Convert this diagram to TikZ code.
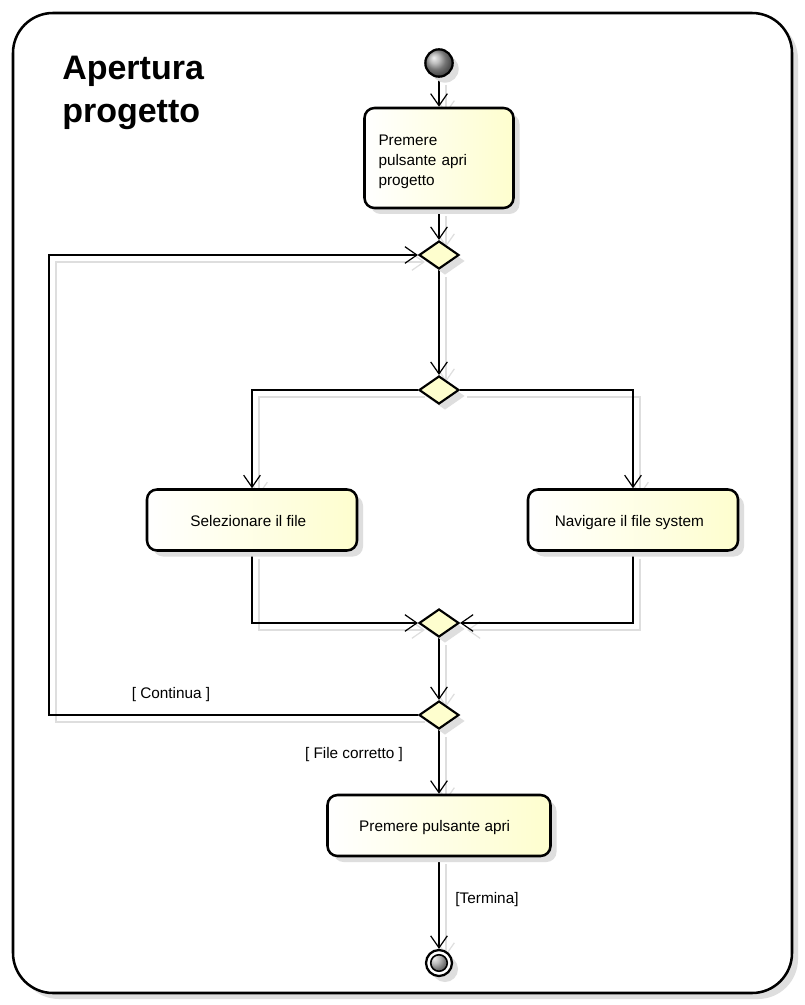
\documentclass[tikz,border=0pt]{standalone}
\usepackage{fontspec}
\setmainfont{Liberation Sans}
\usetikzlibrary{arrows.meta,shapes.geometric,shadows}
\definecolor{boxyel}{RGB}{254,254,206}
\definecolor{shad}{RGB}{222,222,222}
\pgfdeclarelayer{framelayer}
\pgfdeclarelayer{linelayer}
\pgfsetlayers{framelayer,linelayer,main}
\newcommand{\allconns}[1]{%
  \draw[#1] (start) -- (a1);
  \draw[#1] (a1) -- (d1);
  \draw[#1] (d1) -- (d2);
  \draw[#1] (d2.west) -| (sel.north);
  \draw[#1] (d2.east) -| (nav.north);
  \draw[#1] (sel.south) |- (d3.west);
  \draw[#1] (nav.south) |- (d3.east);
  \draw[#1] (d3) -- (d4);
  \draw[#1] (d4.west) -- (lc1) -- (lc2) -- (d1.west);
  \draw[#1] (d4) -- (a4);
  \draw[#1] (a4) -- (end);
}
\newcommand{\boxstrut}{\rule[-2.5pt]{0pt}{14pt}}
\begin{document}
\begin{tikzpicture}[x=0.75pt,y=-0.75pt,
  txt/.style={font=\fontsize{11.5}{15}\selectfont},
  shadowed/.style={drop shadow={shadow xshift=4.5pt,shadow yshift=-4.5pt,fill=shad,opacity=1}},
  action/.style={draw=black, line width=1.9pt, rounded corners=7.5pt,
    left color=white, right color=boxyel, minimum height=45.75pt,
    txt, shadowed},
  decision/.style={diamond, draw=black, line width=1.6pt, fill=boxyel,
    minimum width=30pt, minimum height=21pt, inner sep=0pt, shadowed},
  startnode/.style={circle, draw=black, line width=1.7pt, ball color=gray!70,
    minimum size=20.5pt, inner sep=0pt, shadowed},
  endnode/.style={circle, draw=black, line width=1.7pt, fill=white,
    minimum size=19.5pt, inner sep=0pt, shadowed,
    path picture={\shade[ball color=gray!70] (path picture bounding box.center) circle (6.2pt);
      \draw[line width=1.2pt] (path picture bounding box.center) circle (6.2pt);}},
  flow/.style={line width=0.9pt, -{Straight Barb[length=9pt,width=12.5pt]}},
  flowshadow/.style={flow, draw=shad},
  guard/.style={txt}]
\useasboundingbox (0,0) rectangle (804,1005);
\begin{pgfonlayer}{framelayer}
  \fill[white] (0,0) rectangle (804,1005);
  \fill[shad, rounded corners=30pt] (19,19) rectangle (798,999);
  \draw[line width=1.9pt, fill=white, rounded corners=30pt] (13,13) rectangle (792,993);
\end{pgfonlayer}

\node[anchor=north west, inner sep=0pt, align=left,
  font=\bfseries\fontsize{25.5}{32}\selectfont] (title) at (62,56) {Apertura\\progetto};

\node[startnode] (start) at (439,63) {};
\node[action, minimum width=111.75pt, minimum height=75pt, text width=90.75pt,
  inner xsep=10.5pt, align=left] (a1) at (439,158) {\rule{0pt}{14.3pt}Premere\\pulsante apri\\progetto};
\node[decision] (d1) at (439,255) {};
\node[decision] (d2) at (439,390) {};
\node[action, minimum width=157.5pt] (sel) at (252,520) {\boxstrut Selezionare il file\hspace*{5.5pt}};
\node[action, minimum width=157.5pt] (nav) at (633,520) {\boxstrut Navigare il file system\hspace*{5.5pt}};
\node[decision] (d3) at (439,623) {};
\node[decision] (d4) at (439,715) {};
\node[action, minimum width=167.25pt] (a4) at (439,825.5) {\boxstrut Premere pulsante apri\hspace*{6.5pt}};
\node[endnode] (end) at (439,963) {};
\coordinate (lc1) at (49,715);
\coordinate (lc2) at (49,255);

\node[guard] (gcont) at (171,695) {[ Continua ]};
\node[guard] (gfile) at (354,755) {[ File corretto ]};
\node[guard] (gterm) at (487,900) {[Termina]};

\begin{pgfonlayer}{linelayer}
  \begin{scope}[transform canvas={shift={(7,7)}}]
    \allconns{flowshadow}
  \end{scope}
  \allconns{flow}
\end{pgfonlayer}
\end{tikzpicture}
\end{document}
